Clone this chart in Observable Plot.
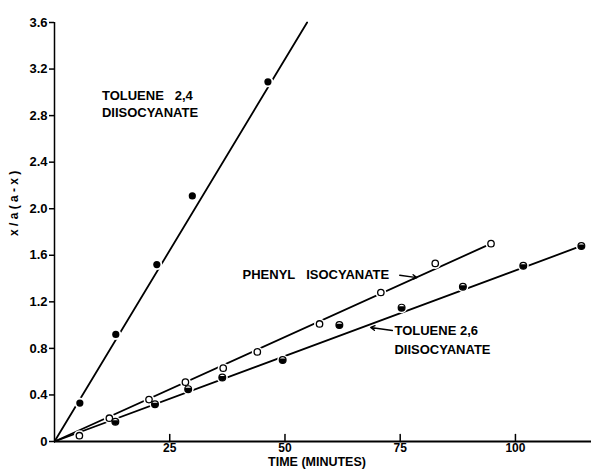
<!DOCTYPE html>
<html><head><meta charset="utf-8">
<script src="https://cdn.jsdelivr.net/npm/d3@7"></script>
<script src="https://cdn.jsdelivr.net/npm/@observablehq/plot@0.6"></script>
<style>body{margin:0;background:#fff} svg{display:block}</style>
</head><body><div id="chart"></div>
<script>
// Data: [time (minutes), x/a(a-x)]
const toluene24 = [[5.5,0.33],[13.3,0.92],[22.2,1.52],[29.9,2.11],[46.3,3.09]];
const phenyl = [[5.4,0.05],[11.9,0.20],[20.5,0.36],[28.4,0.51],[36.6,0.63],[44.0,0.77],[57.5,1.01],[70.8,1.28],[82.6,1.53],[94.7,1.70]];
const toluene26 = [[13.2,0.17],[21.8,0.32],[29.0,0.45],[36.4,0.55],[49.5,0.70],[61.8,1.00],[75.3,1.15],[88.6,1.33],[101.7,1.51],[114.3,1.68]];
// Fitted straight lines (endpoints)
const fit24 = [[0,0],[54.8,3.6]];
const fitPhenyl = [[0,0],[94.7,1.70]];
const fit26 = [[0,0],[114.3,1.68]];
// Tick values and labels
const xTicks = [25,50,75,100];
const yTicks = [0,0.4,0.8,1.2,1.6,2.0,2.4,2.8,3.2,3.6];
const xTitle = "TIME (MINUTES)";
const yTitle = "x / a ( a - x )";
// Annotations (data units)
const labels = [
  {x:10.3, y:2.97, text:"TOLUENE\u00a0\u00a0\u00a02,4"},
  {x:10.3, y:2.82, text:"DIISOCYANATE"},
  {x:40.8, y:1.435, text:"PHENYL\u00a0\u00a0\u00a0ISOCYANATE"},
  {x:73.75, y:0.954, text:"TOLUENE\u00a02,6"},
  {x:73.75, y:0.79, text:"DIISOCYANATE"}
];
const arrows = [
  {x1:74.9, y1:1.428, x2:78.6, y2:1.408},
  {x1:73.3, y1:0.954, x2:68.6, y2:0.98}
];

const halfSymbol = {
  draw(context, size) {
    const r = Math.sqrt(size / Math.PI);
    context.moveTo(r * Math.cos(-0.45), r * Math.sin(-0.45));
    context.arc(0, 0, r, -0.45, Math.PI + 0.45);
    context.closePath();
  }
};
const tickShape = {draw(context, l) { context.moveTo(0, 0); context.lineTo(0, -l); }};
const allPts = [...toluene24, ...phenyl, ...toluene26];

const chart = Plot.plot({
  width: 591, height: 471,
  marginLeft: 54, marginRight: 0, marginTop: 22, marginBottom: 30,
  x: {domain: [0, 116.5]},
  y: {domain: [0, 3.6]},
  style: {fontFamily: "Liberation Sans, Arial, sans-serif", fontWeight: "bold", color: "black", background: "white"},
  marks: [
    Plot.line(fit24, {x: d => d[0], y: d => d[1], stroke: "black", strokeWidth: 1.8}),
    Plot.line(fitPhenyl, {x: d => d[0], y: d => d[1], stroke: "black", strokeWidth: 1.8}),
    Plot.line(fit26, {x: d => d[0], y: d => d[1], stroke: "black", strokeWidth: 1.8}),
    Plot.dot(allPts, {x: d => d[0], y: d => d[1], r: 5.5, fill: "white"}),
    Plot.ruleY([0], {stroke: "black", strokeWidth: 2}),
    Plot.ruleX([0], {stroke: "black", strokeWidth: 1.5}),
    Plot.axisY(yTicks, {tickSize: 5, tickPadding: 2, strokeWidth: 1.5, fontSize: 13, label: null,
      tickFormat: d => d === 0 ? "0" : d.toFixed(1)}),
    Plot.vector(xTicks, {x: d => d, y: 0, length: 7, anchor: "start", rotate: 0, shape: tickShape, stroke: "black", strokeWidth: 1.5}),
    Plot.axisX(xTicks, {tickSize: 0, tickPadding: 2, fontSize: 12, label: null}),
    Plot.text([xTitle], {frameAnchor: "bottom", dx: -6, dy: 24.5, fontSize: 12.5, fontWeight: "bold"}),
    Plot.text([yTitle], {frameAnchor: "left", rotate: -90, dx: -40, dy: 4, fontSize: 12, fontWeight: "bold"}),
    Plot.dot(toluene24, {x: d => d[0], y: d => d[1], r: 3.6, fill: "black"}),
    Plot.dot(phenyl, {x: d => d[0], y: d => d[1], r: 3.2, fill: "white", stroke: "black", strokeWidth: 1.3}),
    Plot.dot(toluene26, {x: d => d[0], y: d => d[1], r: 3.4, fill: "white", stroke: "black", strokeWidth: 1.2}),
    Plot.dot(toluene26, {x: d => d[0], y: d => d[1], r: 3.4, fill: "black", symbol: halfSymbol}),
    Plot.text(labels, {x: "x", y: "y", text: "text", textAnchor: "start", fontSize: 13, fontWeight: "bold"}),
    Plot.arrow(arrows, {x1: "x1", y1: "y1", x2: "x2", y2: "y2", headLength: 5, strokeWidth: 1.4, stroke: "black"})
  ]
});
document.getElementById("chart").append(chart);
</script>
</body></html>
